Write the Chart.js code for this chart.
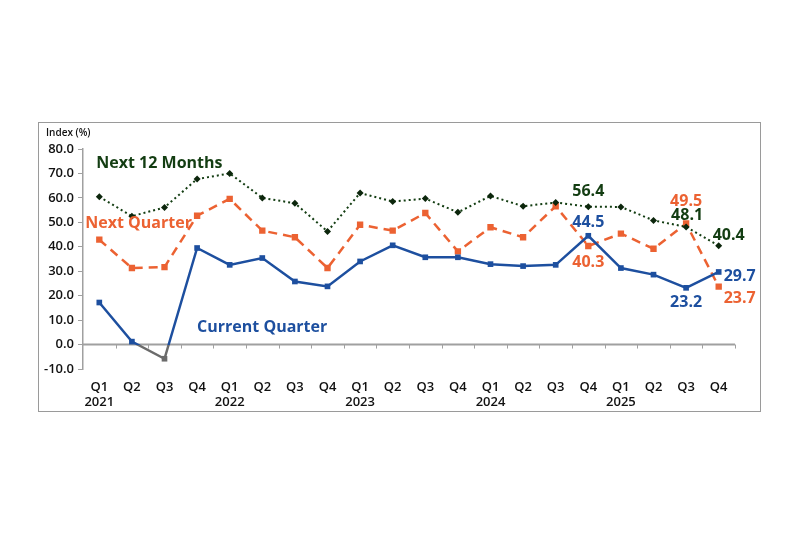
<!DOCTYPE html>
<html>
<head>
<meta charset="utf-8">
<script src="https://cdn.jsdelivr.net/npm/chart.js@4"></script>
<style>
  html, body { margin: 0; padding: 0; background: #fff; }
  #wrap { position: relative; width: 800px; height: 533px; }
  #frame { position: absolute; left: 38px; top: 122px; width: 723px; height: 290px; border: 1.5px solid #9a9a9a; box-sizing: border-box; pointer-events: none; }
</style>
</head>
<body>
<div id="wrap">
  <canvas id="grafik" width="800" height="533"></canvas>
  <div id="frame"></div>
</div>
<script>
// -------- DATA --------
const kuartal = [
    ["Q1", "2021"], "Q2", "Q3", "Q4",
    ["Q1", "2022"], "Q2", "Q3", "Q4",
    ["Q1", "2023"], "Q2", "Q3", "Q4",
    ["Q1", "2024"], "Q2", "Q3", "Q4",
    ["Q1", "2025"], "Q2", "Q3", "Q4"
];
const next12Months = [60.5, 52.5, 56.1, 67.7, 70.0, 60.0, 57.8, 46.3, 62.0, 58.5, 59.7, 54.1, 60.8, 56.6, 58.1, 56.4, 56.3, 50.8, 48.1, 40.4];
const nextQuarter  = [42.9, 31.3, 31.7, 52.7, 59.6, 46.6, 43.9, 31.3, 49.0, 46.6, 53.8, 38.1, 48.0, 43.9, 56.6, 40.3, 45.4, 39.2, 49.5, 23.7];
const currentQuarter = [17.2, 1.2, -5.8, 39.5, 32.6, 35.4, 25.8, 23.8, 34.0, 40.6, 35.7, 35.7, 32.9, 32.1, 32.6, 44.5, 31.3, 28.6, 23.2, 29.7];
const yTicks = [-10, 80, 10];

const BIRU = "#1d4f9f";
const ORANYE = "#ec6232";
const HIJAU = "#133d12";
const ABU = "#6b6b6b";
const FONT = "'Open Sans', 'Noto Sans', sans-serif";

// garis biru jadi abu-abu di bawah nol
function warnaBiru(ctx) {
    const chart = ctx.chart;
    const area = chart.chartArea;
    if (!area) return BIRU;
    const y0 = chart.scales.y.getPixelForValue(0);
    const g = chart.ctx.createLinearGradient(0, area.top, 0, area.bottom);
    const s = Math.min(1, Math.max(0, (y0 - area.top) / (area.bottom - area.top)));
    g.addColorStop(0, BIRU);
    g.addColorStop(s, BIRU);
    g.addColorStop(s, ABU);
    g.addColorStop(1, ABU);
    return g;
}

// -------- LABEL / GARIS NOL --------
const labelPlugin = {
    id: "labelPlugin",
    beforeDatasetsDraw(chart) {
        const { ctx, scales } = chart;
        const x = scales.x, y = scales.y;
        const y0 = y.getPixelForValue(0);
        const lebar = x.getPixelForValue(1) - x.getPixelForValue(0);
        ctx.save();
        ctx.strokeStyle = "#a0a0a0";
        ctx.lineWidth = 2;
        ctx.beginPath();
        ctx.moveTo(x.left, y0);
        ctx.lineTo(x.right, y0);
        ctx.stroke();
        ctx.lineWidth = 1;
        for (let i = 1; i <= kuartal.length; i++) {
            const px = x.getPixelForValue(i) - lebar / 2;
            ctx.beginPath();
            ctx.moveTo(Math.round(px) + 0.5, y0);
            ctx.lineTo(Math.round(px) + 0.5, y0 + 4);
            ctx.stroke();
        }
        ctx.restore();
    },
    afterDatasetsDraw(chart) {
        const { ctx, scales } = chart;
        const x = scales.x, y = scales.y;
        ctx.save();
        ctx.textBaseline = "middle";

        // judul sumbu
        ctx.font = "600 10px " + FONT;
        ctx.fillStyle = "#111";
        ctx.textAlign = "left";
        ctx.fillText("Index (%)", 46, 133);

        // nama seri
        ctx.font = "bold 16px " + FONT;
        ctx.fillStyle = HIJAU;
        ctx.fillText("Next 12 Months", x.getPixelForValue(0) - 3, y.getPixelForValue(74.2));
        ctx.fillStyle = ORANYE;
        ctx.fillText("Next Quarter", x.getPixelForValue(0) - 14, y.getPixelForValue(49.5));
        ctx.fillStyle = BIRU;
        ctx.fillText("Current Quarter", x.getPixelForValue(3), y.getPixelForValue(7));

        // label nilai
        const tulis = (arr, i, warna, dx, dy) => {
            ctx.fillStyle = warna;
            ctx.fillText(arr[i].toFixed(1), x.getPixelForValue(i) + dx, y.getPixelForValue(arr[i]) + dy);
        };
        ctx.textAlign = "center";
        tulis(next12Months, 15, HIJAU, 0, -15);
        tulis(next12Months, 18, HIJAU, 1, -12);
        tulis(next12Months, 19, HIJAU, 10, -10);
        tulis(nextQuarter, 15, ORANYE, 0, 16);
        tulis(nextQuarter, 18, ORANYE, 0, -22);
        tulis(currentQuarter, 15, BIRU, 0, -13);
        tulis(currentQuarter, 18, BIRU, 0, 15);
        ctx.textAlign = "left";
        tulis(nextQuarter, 19, ORANYE, 5, 12);
        tulis(currentQuarter, 19, BIRU, 5, 4);
        ctx.restore();
    }
};

// -------- GRAFIK --------
new Chart(document.getElementById("grafik"), {
    type: "line",
    data: {
        labels: kuartal,
        datasets: [
            {
                label: "Next 12 Months",
                data: next12Months,
                borderColor: HIJAU,
                backgroundColor: "#0c260c",
                borderWidth: 2,
                borderDash: [2, 3],
                pointStyle: "rectRot",
                pointRadius: 3.5,
                pointBorderWidth: 0,
                tension: 0
            },
            {
                label: "Current Quarter",
                data: currentQuarter,
                borderColor: warnaBiru,
                pointBackgroundColor: ctx => (ctx.raw < 0 ? ABU : BIRU),
                borderWidth: 2.5,
                pointStyle: "rect",
                pointRadius: 4,
                pointBorderWidth: 0,
                tension: 0
            },
            {
                label: "Next Quarter",
                data: nextQuarter,
                borderColor: ORANYE,
                backgroundColor: ORANYE,
                borderWidth: 2.5,
                borderDash: [9, 6],
                pointStyle: "rect",
                pointRadius: 4.5,
                pointBorderWidth: 0,
                tension: 0
            }
        ]
    },
    options: {
        responsive: false,
        animation: false,
        layout: { padding: { left: 38, right: 65, top: 149, bottom: 0 } },
        plugins: { legend: { display: false }, tooltip: { enabled: false } },
        scales: {
            x: {
                offset: true,
                grid: { display: false },
                border: { display: false },
                ticks: {
                    color: "#111",
                    font: { family: FONT, size: 13, weight: "600" },
                    maxRotation: 0,
                    autoSkip: false,
                    padding: 2
                },
                afterFit: s => { s.height = 164; }
            },
            y: {
                min: yTicks[0],
                max: yTicks[1],
                ticks: {
                    stepSize: yTicks[2],
                    color: "#111",
                    font: { family: FONT, size: 13, weight: "600" },
                    callback: v => v.toFixed(1),
                    padding: 4
                },
                grid: { drawOnChartArea: false, color: "#a0a0a0", tickLength: 5 },
                border: { display: true, color: "#a0a0a0", width: 1.5 },
                afterFit: s => { s.width = 45; }
            }
        }
    },
    plugins: [labelPlugin]
});
</script>
</body>
</html>
